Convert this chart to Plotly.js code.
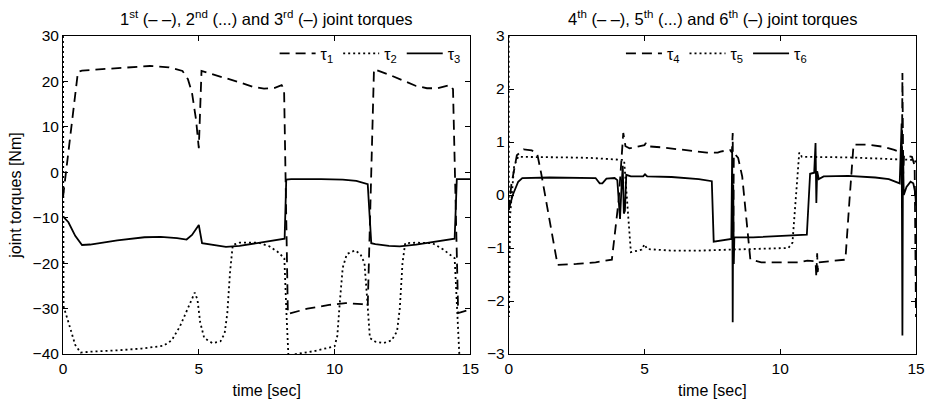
<!DOCTYPE html>
<html><head><meta charset="utf-8">
<script src="https://cdn.plot.ly/plotly-3.0.1.min.js"></script>
<style>html,body{margin:0;padding:0;background:#fff;} #chart{width:927px;height:399px;}</style>
</head><body><div id="chart"></div>
<script>
// ---- Left panel: joints 1-3 ----
const t1 = [0, 0.55, 0.7, 1.35, 2.2, 3.2, 3.9, 4.4, 4.6, 4.75, 4.9, 5.0, 5.1, 5.5, 6.0, 6.5, 7.0, 7.4, 7.8, 8.05, 8.14, 8.28, 9.0, 9.8, 10.4, 11.0, 11.22, 11.45, 12.0, 12.5, 13.0, 13.4, 13.8, 14.25, 14.36, 14.55, 15];
const tau1 = [-5.5, 22.1, 22.4, 22.7, 23.0, 23.4, 23.1, 22.3, 20.5, 17.5, 11.5, 5.3, 22.3, 21.6, 20.8, 19.8, 18.8, 18.4, 18.6, 19.2, 18.3, -31.2, -30.0, -29.2, -28.8, -29.0, -29.5, 22.7, 21.5, 20.2, 19.0, 18.5, 18.5, 19.2, 18.3, -31.0, -30.2];

const t2 = [0, 0.02, 0.25, 0.45, 0.65, 1.0, 2.0, 2.9, 3.7, 4.0, 4.3, 4.6, 4.85, 4.95, 5.05, 5.2, 5.5, 5.8, 5.95, 6.05, 6.15, 6.25, 6.5, 7.2, 7.6, 7.9, 8.15, 8.22, 8.3, 8.6, 9.3, 10.0, 10.1, 10.2, 10.3, 10.45, 10.75, 10.95, 11.1, 11.2, 11.3, 11.5, 11.8, 12.1, 12.3, 12.4, 12.5, 12.6, 13.0, 13.6, 14.0, 14.42, 14.5, 14.6];
const tau2 = [30, -29.5, -34, -38, -39.7, -39.5, -39.2, -38.8, -38.2, -37, -34, -30, -26.5, -28, -33, -36.5, -37.6, -37.2, -35.5, -31, -22, -16, -15.5, -15.5, -16.3, -17.5, -18.9, -30, -40.5, -40, -39.3, -38.3, -36, -28, -21, -18, -17.2, -18, -20, -28, -36.5, -37.3, -37.6, -37, -35, -30, -20, -15.6, -15.5, -15.6, -17, -18.9, -28, -41];

const t3 = [0, 0.2, 0.45, 0.7, 1.0, 2.0, 3.0, 3.6, 4.2, 4.55, 4.75, 4.9, 5.0, 5.12, 5.6, 6.0, 6.5, 7.0, 7.6, 8.1, 8.16, 8.22, 8.4, 9.5, 10.3, 10.8, 11.1, 11.22, 11.35, 11.5, 12.0, 12.4, 13.0, 13.6, 14.35, 14.42, 14.5, 15];
const tau3 = [-9.7, -11, -14, -16, -15.9, -15.0, -14.3, -14.2, -14.5, -14.8, -13.8, -12.5, -11.6, -15.6, -16.0, -16.4, -16.2, -15.7, -15.1, -14.7, -14.6, -1.6, -1.5, -1.5, -1.6, -1.9, -2.3, -2.6, -15.6, -15.8, -16.2, -16.3, -15.9, -15.3, -14.7, -14.6, -1.5, -1.5];

// ---- Right panel: joints 4-6 ----
const t4 = [0, 0.1, 0.3, 0.55, 0.85, 1.05, 1.2, 1.5, 1.8, 2.5, 3.2, 3.8, 4.05, 4.22, 4.3, 4.45, 4.8, 5.0, 5.05, 5.1, 5.6, 6.2, 6.8, 7.3, 7.7, 7.8, 8.15, 8.22, 8.25, 8.27, 8.29, 8.32, 8.45, 8.6, 8.7, 8.8, 8.9, 9.3, 10.0, 10.7, 11.0, 11.3, 11.33, 11.36, 11.38, 11.42, 11.8, 12.4, 12.55, 12.7, 13.2, 13.8, 14.2, 14.45, 14.48, 14.5, 14.53, 14.56, 14.85, 14.95, 15];
const tau4 = [-0.28, 0.2, 0.75, 0.86, 0.84, 0.78, 0.4, -0.5, -1.32, -1.3, -1.27, -1.22, -0.1, 1.17, 0.92, 0.88, 0.92, 0.94, 0.98, 0.92, 0.9, 0.87, 0.83, 0.8, 0.8, 0.82, 0.85, 0.8, 1.17, -0.9, 0.75, 0.78, 0.7, 0.35, -0.2, -0.8, -1.22, -1.27, -1.27, -1.27, -1.24, -1.25, -1.55, -1.1, -1.45, -1.27, -1.25, -1.22, -0.1, 0.95, 0.95, 0.91, 0.85, 0.8, 0.3, 2.3, 0.4, 0.75, 0.72, 0.55, -2.3];

const t5 = [0, 0.01, 0.05, 0.2, 0.35, 1.0, 2.0, 3.0, 4.15, 4.25, 4.5, 4.9, 5.0, 5.05, 5.1, 6.0, 7.0, 8.2, 9.0, 10.3, 10.45, 10.7, 10.8, 11.5, 12.5, 13.5, 14.5, 14.95, 15];
const tau5 = [3.1, -2.3, -0.4, 0.55, 0.72, 0.72, 0.71, 0.7, 0.67, 0.66, -1.08, -1.03, -0.93, -0.98, -1.02, -1.05, -1.05, -1.03, -1.02, -1.0, -0.9, 0.8, 0.72, 0.72, 0.71, 0.69, 0.67, 0.66, 0.6];

const t6 = [0, 0.15, 0.35, 0.5, 1.5, 2.5, 3.2, 3.35, 3.45, 3.6, 3.9, 4.0, 4.05, 4.1, 4.15, 4.2, 4.24, 4.28, 4.33, 4.5, 4.95, 5.02, 5.1, 6.0, 7.0, 7.48, 7.55, 8.1, 8.2, 8.23, 8.25, 8.27, 8.29, 8.31, 9.0, 10.0, 10.98, 11.1, 11.25, 11.3, 11.33, 11.36, 11.42, 11.6, 12.5, 13.5, 14.0, 14.4, 14.47, 14.5, 14.52, 14.55, 14.65, 14.8, 14.9, 14.97, 15];
const tau6 = [-0.28, 0.0, 0.25, 0.32, 0.33, 0.32, 0.32, 0.22, 0.22, 0.31, 0.32, 0.28, -0.2, -0.45, 0.1, 0.55, -0.35, -0.3, 0.38, 0.35, 0.35, 0.39, 0.35, 0.34, 0.3, 0.26, -0.88, -0.84, -0.83, 0.85, -2.4, 0.2, -1.3, -0.8, -0.8, -0.78, -0.75, 0.4, 0.42, 0.98, -0.15, 0.45, 0.3, 0.35, 0.36, 0.33, 0.3, 0.22, 1.35, -2.65, 0.8, 0.0, 0.15, 0.25, 0.22, 0.05, -0.2];

// ---- ticks / labels ----
const xTicks = [0, 5, 10, 15];
const yTicksLeft = [-40, -30, -20, -10, 0, 10, 20, 30];
const yTicksRight = [-3, -2, -1, 0, 1, 2, 3];
const names = ['τ<sub>1</sub>', 'τ<sub>2</sub>', 'τ<sub>3</sub>', 'τ<sub>4</sub>', 'τ<sub>5</sub>', 'τ<sub>6</sub>'];
const titleLeft = '1<sup>st</sup> (– –), 2<sup>nd</sup> (...) and 3<sup>rd</sup> (–) joint torques';
const titleRight = '4<sup>th</sup> (– –), 5<sup>th</sup> (...) and 6<sup>th</sup> (–) joint torques';
const xTitle = 'time [sec]';
const yTitle = 'joint torques [Nm]';

const FONT = 'Liberation Sans, Arial, Helvetica, sans-serif';
const DASH = '10px,6px', DOT = '2px,3px';
const LW = 1.8;
function tr(x, y, name, dash, ax, lg) {
  return {x: x, y: y, name: name, mode: 'lines', type: 'scatter',
    xaxis: ax[0], yaxis: ax[1], legend: lg,
    line: {color: '#000', width: LW, dash: dash}};
}
const data = [
  tr(t1, tau1, names[0], DASH, ['x','y'], 'legend'),
  tr(t2, tau2, names[1], DOT, ['x','y'], 'legend'),
  tr(t3, tau3, names[2], 'solid', ['x','y'], 'legend'),
  tr(t4, tau4, names[3], DASH, ['x2','y2'], 'legend2'),
  tr(t5, tau5, names[4], DOT, ['x2','y2'], 'legend2'),
  tr(t6, tau6, names[5], 'solid', ['x2','y2'], 'legend2')
];

const tickFont = {family: FONT, size: 15.5, color: '#000'};
const tfont = {family: FONT, size: 16, color: '#000'};
const headFont = {family: FONT, size: 16.5, color: '#000'};
const axBase = {showline: true, linecolor: '#000', linewidth: 1, mirror: 'ticks',
  ticks: 'inside', ticklen: 5, tickwidth: 1, tickcolor: '#000',
  showgrid: false, zeroline: false, automargin: false, tickfont: tickFont};

const layout = {
  width: 927, height: 399,
  margin: {l: 63, r: 11, t: 36, b: 45},
  paper_bgcolor: '#fff', plot_bgcolor: '#fff',
  font: {family: FONT, size: 16, color: '#000'},
  showlegend: true,
  xaxis: Object.assign({}, axBase, {domain: [0, 0.4776], range: [0, 15], tickvals: xTicks, anchor: 'y',
    title: {text: xTitle, font: tfont}}),
  yaxis: Object.assign({}, axBase, {domain: [0, 1], range: [-40, 30], tickvals: yTicksLeft, anchor: 'x',
    title: {text: yTitle, font: tfont}}),
  xaxis2: Object.assign({}, axBase, {domain: [0.5225, 1], range: [0, 15], tickvals: xTicks, anchor: 'y2',
    title: {text: xTitle, font: tfont}}),
  yaxis2: Object.assign({}, axBase, {domain: [0, 1], range: [-3, 3], tickvals: yTicksRight, anchor: 'x2'}),
  legend: {orientation: 'h', x: 0.472, xanchor: 'right', y: 0.945, yanchor: 'middle', itemwidth: 36,
    bgcolor: 'rgba(0,0,0,0)', borderwidth: 0, font: tfont},
  legend2: {orientation: 'h', x: 0.878, xanchor: 'right', y: 0.945, yanchor: 'middle', itemwidth: 36,
    bgcolor: 'rgba(0,0,0,0)', borderwidth: 0, font: tfont},
  annotations: [
    {text: titleLeft, xref: 'paper', yref: 'paper', x: 0.239, y: 1.0566, showarrow: false,
      xanchor: 'center', yanchor: 'middle', font: headFont},
    {text: titleRight, xref: 'paper', yref: 'paper', x: 0.7612, y: 1.0566, showarrow: false,
      xanchor: 'center', yanchor: 'middle', font: headFont}
  ]
};
Plotly.newPlot('chart', data, layout, {staticPlot: true, displayModeBar: false});
</script>
</body></html>
